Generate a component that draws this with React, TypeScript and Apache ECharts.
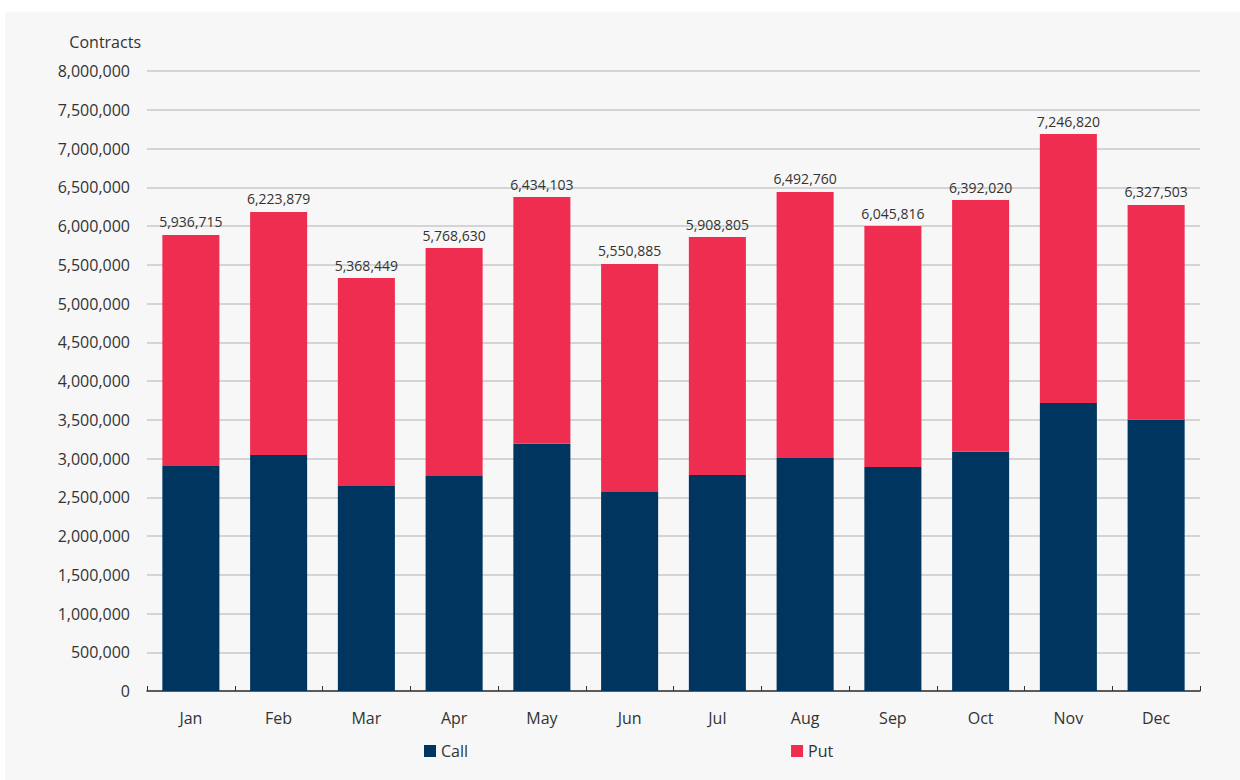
import React, { useEffect, useRef } from "react";
import * as echarts from "echarts";

const months = ["Jan", "Feb", "Mar", "Apr", "May", "Jun", "Jul", "Aug", "Sep", "Oct", "Nov", "Dec"];
const callValues = [2903000, 3045000, 2645000, 2774000, 3191000, 2568000, 2787000, 3006000, 2890000, 3088000, 3716000, 3501000];
const putValues = [2981000, 3136000, 2684000, 2942000, 3183000, 2942000, 3071000, 3433000, 3110000, 3247000, 3471000, 2770000];
const totalLabels = [5936715, 6223879, 5368449, 5768630, 6434103, 5550885, 5908805, 6492760, 6045816, 6392020, 7246820, 6327503];

const FONT = "'Open Sans', 'Noto Sans', sans-serif";
const TEXT = "#333333";
const fmt = (v: number) => v.toLocaleString("en-US");

export default function App() {
  const ref = useRef<HTMLDivElement>(null);
  useEffect(() => {
    document.body.style.margin = "0";
    const chart = echarts.init(ref.current!, undefined, { renderer: "svg" });
    chart.setOption({
      animation: false,
      textStyle: { fontFamily: FONT },
      graphic: [
        {
          type: "rect",
          z: -10,
          silent: true,
          shape: { x: 5, y: 12, width: 1235, height: 768 },
          style: { fill: "#f7f7f7" },
        },
      ],
      grid: { left: 147, right: 40, top: 71, bottom: 89, containLabel: false },
      legend: {
        left: 419,
        top: 738,
        itemWidth: 12,
        itemHeight: 12,
        itemGap: 323,
        icon: "rect",
        textStyle: { fontFamily: FONT, fontSize: 16, color: TEXT },
        data: ["Call", "Put"],
      },
      xAxis: {
        type: "category",
        data: months,
        axisLine: { lineStyle: { color: "#333333", width: 1.5 } },
        axisTick: { show: true, inside: true, length: 5, lineStyle: { color: "#333333" } },
        axisLabel: { fontSize: 16, color: TEXT, margin: 19, fontFamily: FONT },
      },
      yAxis: {
        type: "value",
        min: 0,
        max: 8000000,
        interval: 500000,
        name: "Contracts",
        nameLocation: "end",
        nameGap: 29,
        nameTextStyle: {
          fontSize: 16,
          color: TEXT,
          align: "right",
          verticalAlign: "middle",
          padding: [0, 6, 0, 0],
          fontFamily: FONT,
        },
        axisLine: { show: false },
        axisTick: { show: false },
        axisLabel: { fontSize: 16, color: TEXT, margin: 17, formatter: (v: number) => fmt(v), fontFamily: FONT },
        splitLine: { lineStyle: { color: "#c8c8c8", width: 1.5 } },
      },
      series: [
        {
          name: "Call",
          type: "bar",
          stack: "total",
          barWidth: "65%",
          itemStyle: { color: "#00355F" },
          data: callValues,
        },
        {
          name: "Put",
          type: "bar",
          stack: "total",
          barWidth: "65%",
          itemStyle: { color: "#EF2D50" },
          label: {
            show: true,
            position: "top",
            distance: 6,
            fontSize: 14,
            color: TEXT,
            fontFamily: FONT,
            formatter: (p: any) => fmt(totalLabels[p.dataIndex]),
          },
          data: putValues,
        },
      ],
    });
    return () => chart.dispose();
  }, []);
  return <div ref={ref} style={{ position: "absolute", left: 0, top: 0, width: 1240, height: 780 }} />;
}
